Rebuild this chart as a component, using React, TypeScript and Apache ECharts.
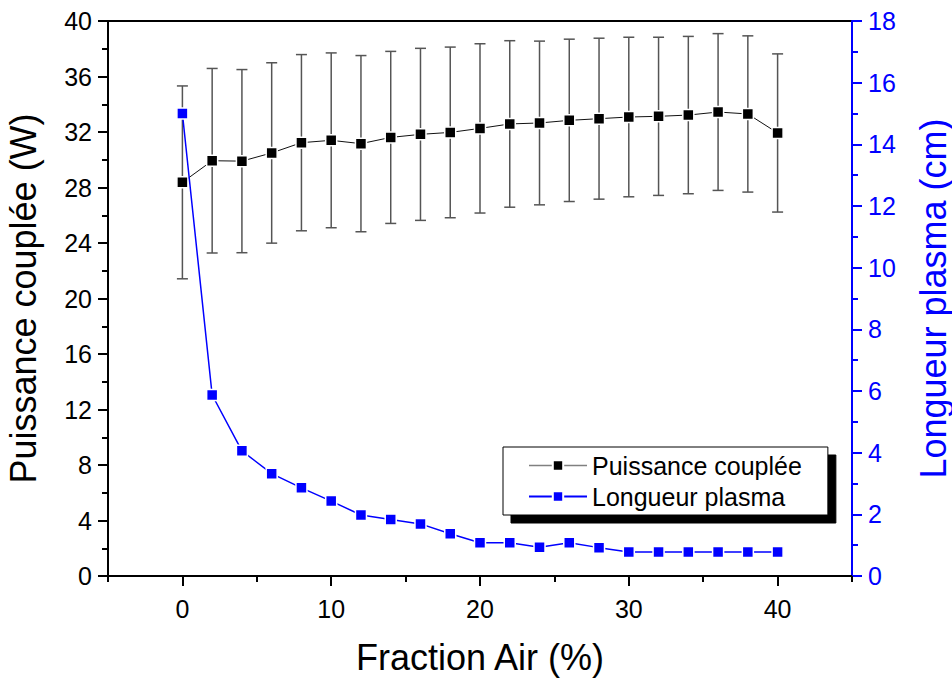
import React, { useEffect, useRef } from "react";
import * as echarts from "echarts";

const fractionAir = [0, 2, 4, 6, 8, 10, 12, 14, 16, 18, 20, 22, 24, 26, 28, 30, 32, 34, 36, 38, 40];
const puissance = [28.37, 29.93, 29.9, 30.49, 31.23, 31.4, 31.16, 31.61, 31.83, 31.97, 32.26, 32.58, 32.65, 32.84, 32.96, 33.08, 33.13, 33.22, 33.44, 33.3, 31.93];
const puissanceErr = [6.95, 6.65, 6.6, 6.5, 6.35, 6.3, 6.35, 6.2, 6.2, 6.15, 6.1, 6.0, 5.9, 5.85, 5.8, 5.75, 5.7, 5.67, 5.65, 5.63, 5.7];
const longueur = [15.0, 5.87, 4.06, 3.32, 2.86, 2.43, 1.98, 1.83, 1.69, 1.37, 1.08, 1.08, 0.93, 1.08, 0.92, 0.78, 0.78, 0.78, 0.78, 0.78, 0.78];
const xMajorTicks = [0, 10, 20, 30, 40];
const xMinorTicks = [-5, 5, 15, 25, 35, 45];

const FONT = "'Liberation Sans', Arial, sans-serif";
const BLUE = "#0000ff";

export default function App() {
  const ref = useRef<HTMLDivElement>(null);
  useEffect(() => {
    if (!ref.current) return;
    const chart = echarts.init(ref.current, null, { renderer: "svg" });
    const errData = fractionAir.map((x, i) => [x, puissance[i] - puissanceErr[i], puissance[i] + puissanceErr[i]]);
    chart.setOption({
      animation: false,
      backgroundColor: "#fff",
      textStyle: { fontFamily: FONT },
      grid: {
        left: 108,
        top: 21,
        right: 100,
        bottom: 105,
        outerBoundsMode: "none",
        containLabel: false,
        show: true,
        borderColor: "#000",
        borderWidth: 2,
      },
      legend: {
        orient: "vertical",
        left: 503,
        top: 447,
        backgroundColor: "#fff",
        borderColor: "#000",
        borderWidth: 1,
        padding: [6, 26, 6, 25],
        itemWidth: 58,
        itemHeight: 13,
        itemGap: 6,
        shadowColor: "#000",
        shadowBlur: 0,
        shadowOffsetX: 8,
        shadowOffsetY: 8,
        textStyle: { fontSize: 25, color: "#000", fontFamily: FONT },
        data: [
          { name: "Puissance couplée", lineStyle: { color: "#808080", width: 1.5 } },
          { name: "Longueur plasma" },
        ],
      },
      xAxis: [
        {
          type: "value",
          min: -5,
          max: 45,
          position: "bottom",
          name: "Fraction Air (%)",
          nameLocation: "middle",
          nameGap: 63,
          nameTextStyle: { fontSize: 36, color: "#000", fontFamily: FONT },
          axisLine: { onZero: false, lineStyle: { color: "#000", width: 2 } },
          axisTick: { customValues: xMajorTicks, length: 10, lineStyle: { color: "#000", width: 2 } },
          axisLabel: { customValues: xMajorTicks, fontSize: 25, color: "#000", margin: 20, fontFamily: FONT },
          splitLine: { show: false },
        },
        {
          type: "value",
          min: -5,
          max: 45,
          position: "bottom",
          axisLine: { show: false },
          axisTick: { customValues: xMinorTicks, length: 6, lineStyle: { color: "#000", width: 2 } },
          axisLabel: { show: false },
          splitLine: { show: false },
        },
      ],
      yAxis: [
        {
          type: "value",
          min: 0,
          max: 40,
          interval: 4,
          position: "left",
          name: "Puissance couplée (W)",
          nameLocation: "middle",
          nameRotate: 90,
          nameGap: 67,
          nameTextStyle: { fontSize: 36, color: "#000", fontFamily: FONT },
          axisLine: { show: true, onZero: false, lineStyle: { color: "#000", width: 2 } },
          axisTick: { show: true, length: 10, lineStyle: { color: "#000", width: 2 } },
          minorTick: { show: true, splitNumber: 2, length: 6, lineStyle: { color: "#000", width: 2 } },
          axisLabel: { fontSize: 25, color: "#000", margin: 16, fontFamily: FONT },
          splitLine: { show: false },
        },
        {
          type: "value",
          min: 0,
          max: 18,
          interval: 2,
          position: "right",
          name: "Longueur plasma (cm)",
          nameLocation: "middle",
          nameRotate: 90,
          nameGap: 63,
          nameTextStyle: { fontSize: 36, color: BLUE, fontFamily: FONT },
          axisLine: { show: true, onZero: false, lineStyle: { color: BLUE, width: 2 } },
          axisTick: { show: true, length: 10, lineStyle: { color: BLUE, width: 2 } },
          minorTick: { show: true, splitNumber: 2, length: 6, lineStyle: { color: BLUE, width: 2 } },
          axisLabel: { fontSize: 25, color: BLUE, margin: 16, fontFamily: FONT },
          splitLine: { show: false },
        },
      ],
      series: [
        {
          type: "custom",
          name: "err",
          xAxisIndex: 0,
          yAxisIndex: 0,
          z: 1,
          encode: { x: 0, y: [1, 2] },
          data: errData,
          renderItem: (params: any, api: any) => {
            const x = api.value(0);
            const pLo = api.coord([x, api.value(1)]);
            const pHi = api.coord([x, api.value(2)]);
            const w = 5.5;
            const style = { stroke: "#555", lineWidth: 1.5 };
            return {
              type: "group",
              children: [
                { type: "line", shape: { x1: pHi[0], y1: pHi[1], x2: pLo[0], y2: pLo[1] }, style },
                { type: "line", shape: { x1: pHi[0] - w, y1: pHi[1], x2: pHi[0] + w, y2: pHi[1] }, style },
                { type: "line", shape: { x1: pLo[0] - w, y1: pLo[1], x2: pLo[0] + w, y2: pLo[1] }, style },
              ],
            };
          },
        },
        {
          type: "line",
          name: "Puissance couplée",
          xAxisIndex: 0,
          yAxisIndex: 0,
          z: 3,
          data: fractionAir.map((x, i) => [x, puissance[i]]),
          symbol: "rect",
          symbolSize: 11,
          itemStyle: { color: "#000", borderColor: "#fff", borderWidth: 1.5 },
          lineStyle: { color: "#111", width: 1 },
        },
        {
          type: "line",
          name: "Longueur plasma",
          xAxisIndex: 0,
          yAxisIndex: 1,
          z: 4,
          data: fractionAir.map((x, i) => [x, longueur[i]]),
          symbol: "rect",
          symbolSize: 11,
          itemStyle: { color: BLUE, borderColor: "#fff", borderWidth: 1.5 },
          lineStyle: { color: BLUE, width: 1.5 },
        },
      ],
    });
    return () => chart.dispose();
  }, []);
  return <div ref={ref} style={{ position: "fixed", left: 0, top: 0, width: 952, height: 681 }} />;
}
